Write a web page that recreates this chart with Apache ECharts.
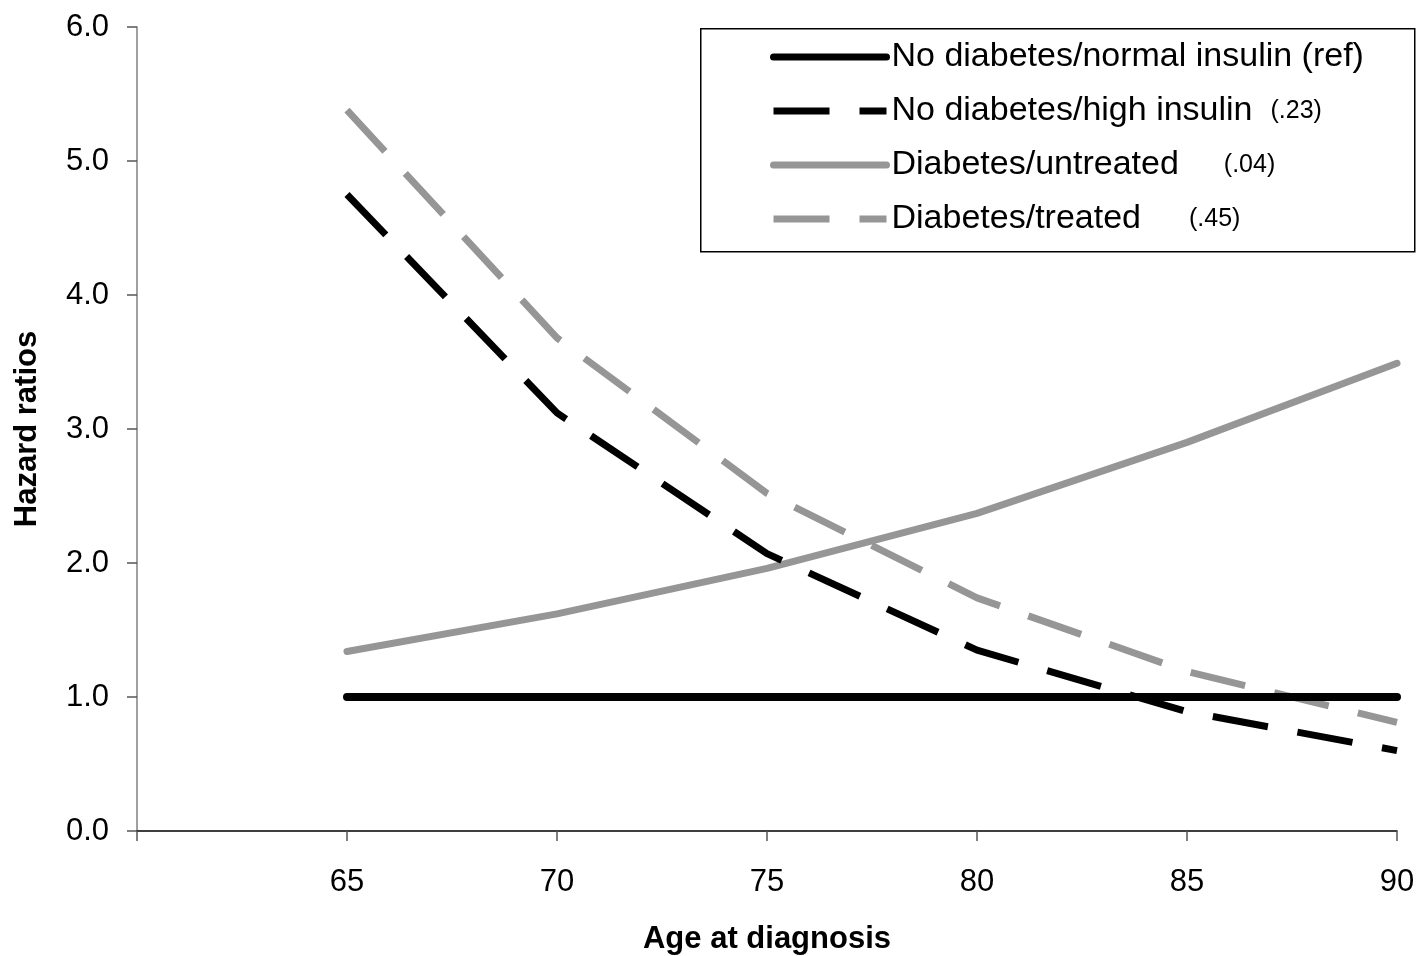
<!DOCTYPE html>
<html>
<head>
<meta charset="utf-8">
<script src="https://cdn.jsdelivr.net/npm/echarts@6/dist/echarts.min.js"></script>
<style>
  html, body { margin: 0; padding: 0; background: #fff; }
  #main { width: 1420px; height: 956px; }
</style>
</head>
<body>
<div id="main"></div>
<script>
// ages on x axis
var ages = [65, 70, 75, 80, 85, 90];
var seriesNames = [
    'No diabetes/normal insulin (ref)',
    'No diabetes/high insulin',
    'Diabetes/untreated',
    'Diabetes/treated'
];
var pValues = ['', '(.23)', '(.04)', '(.45)'];
var normalInsulin = [1.0, 1.0, 1.0, 1.0, 1.0, 1.0];
var highInsulin = [4.75, 3.12, 2.07, 1.35, 0.89, 0.60];
var untreated = [1.34, 1.62, 1.96, 2.37, 2.90, 3.49];
var treated = [5.38, 3.68, 2.52, 1.74, 1.19, 0.81];

var font = 'Liberation Sans, Arial, sans-serif';
var gray = '#969696';

function pairs(vals) {
    return ages.map(function (a, i) { return [a, vals[i]]; });
}

var myChart = echarts.init(document.getElementById('main'));
myChart.setOption({
    animation: false,
    grid: { left: 137, right: 23, top: 27, bottom: 125, outerBoundsMode: 'none' },
    graphic: [{
        type: 'rect',
        left: 700, top: 28,
        shape: { width: 714, height: 223 },
        style: { fill: '#fff', stroke: '#000', lineWidth: 1.5 },
        z: 0
    }],
    legend: {
        orient: 'vertical',
        left: 770,
        top: 40,
        padding: 0,
        itemWidth: 113,
        itemHeight: 30,
        itemGap: 20,
        selectedMode: false,
        z: 5,
        itemStyle: { opacity: 0 },
        lineStyle: { width: 7 },
        formatter: function (name) {
            var i = seriesNames.indexOf(name);
            if (i === 1) return name + '{p|' + pValues[i] + '}';
            if (i === 2) return name + '{p2|' + pValues[i] + '}';
            if (i === 3) return name + '{p3|' + pValues[i] + '}';
            return name;
        },
        textStyle: {
            fontFamily: font, fontSize: 34, color: '#000',
            rich: {
                p: { fontFamily: font, fontSize: 25, color: '#000', padding: [0, 0, 0, 18] },
                p2: { fontFamily: font, fontSize: 25, color: '#000', padding: [0, 0, 0, 45] },
                p3: { fontFamily: font, fontSize: 25, color: '#000', padding: [0, 0, 0, 48] }
            }
        },
        data: seriesNames
    },
    xAxis: {
        type: 'value',
        min: 60,
        max: 90,
        interval: 5,
        name: 'Age at diagnosis',
        nameLocation: 'middle',
        nameGap: 93,
        nameTextStyle: { fontFamily: font, fontSize: 31, fontWeight: 'bold', color: '#000' },
        splitLine: { show: false },
        axisLine: { lineStyle: { color: '#000', width: 1.5 } },
        axisTick: { length: 10, lineStyle: { color: '#555', width: 1.5 } },
        axisLabel: {
            margin: 36,
            fontFamily: font, fontSize: 31, color: '#000',
            formatter: function (v) { return v === 60 ? '' : String(v); }
        }
    },
    yAxis: {
        type: 'value',
        min: 0,
        max: 6,
        interval: 1,
        name: 'Hazard ratios',
        nameLocation: 'middle',
        nameGap: 94,
        nameTextStyle: { fontFamily: font, fontSize: 31, fontWeight: 'bold', color: '#000' },
        splitLine: { show: false },
        axisLine: { show: true, lineStyle: { color: '#808080', width: 1.5 } },
        axisTick: { show: true, length: 10, lineStyle: { color: '#555', width: 1.5 } },
        axisLabel: {
            margin: 28,
            fontFamily: font, fontSize: 31, color: '#000',
            formatter: function (v) { return v.toFixed(1); }
        }
    },
    series: [
        {
            name: seriesNames[0],
            type: 'line',
            symbol: 'none',
            z: 4,
            itemStyle: { color: '#000' },
            lineStyle: { color: '#000', width: 8, cap: 'round' },
            data: pairs(normalInsulin)
        },
        {
            name: seriesNames[1],
            type: 'line',
            symbol: 'none',
            z: 3,
            itemStyle: { color: '#000' },
            lineStyle: { color: '#000', width: 7, type: [56, 30], cap: 'butt' },
            data: pairs(highInsulin)
        },
        {
            name: seriesNames[2],
            type: 'line',
            symbol: 'none',
            z: 2,
            itemStyle: { color: gray },
            lineStyle: { color: gray, width: 7, cap: 'round' },
            data: pairs(untreated)
        },
        {
            name: seriesNames[3],
            type: 'line',
            symbol: 'none',
            z: 2,
            itemStyle: { color: gray },
            lineStyle: { color: gray, width: 7, type: [56, 30], cap: 'butt' },
            data: pairs(treated)
        }
    ]
});
</script>
</body>
</html>
